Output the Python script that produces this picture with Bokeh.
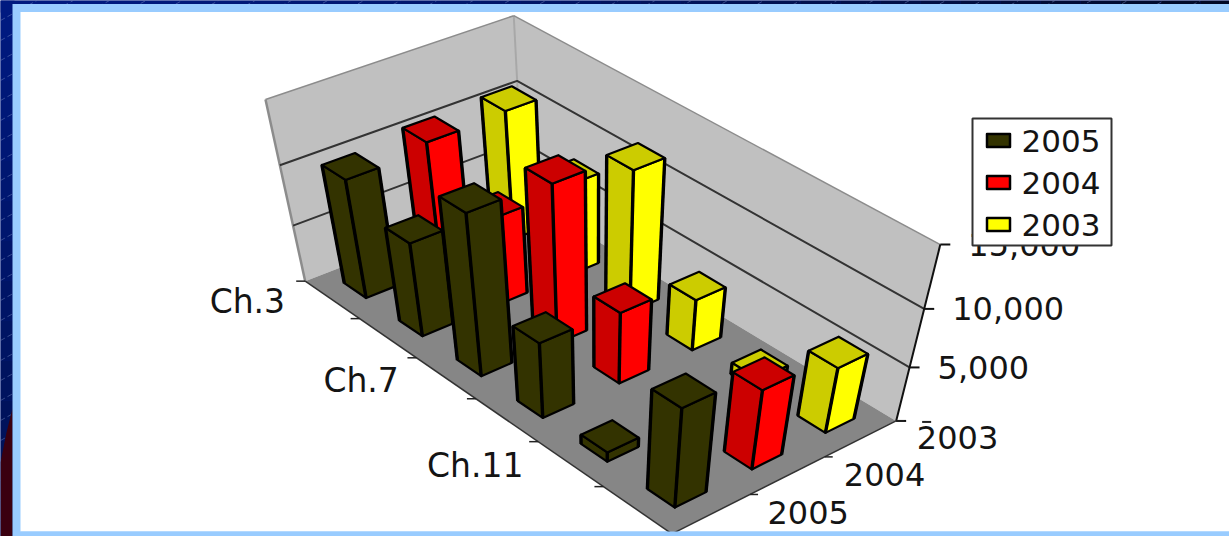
import numpy as np
from bokeh.core.properties import value
from bokeh.embed import file_html
from bokeh.models import Range1d
from bokeh.plotting import figure
from bokeh.resources import INLINE

# Sales by chapter and year
CATEGORIES = ["Ch.3", "Ch.5", "Ch.7", "Ch.9", "Ch.11", "Ch.13"]
LABELLED_CATEGORIES = ["Ch.3", "Ch.7", "Ch.11"]
YEARS = ["2005", "2004", "2003"]
VALUES_2005 = [10200, 8200, 13800, 6800, 900, 9100]
VALUES_2004 = [10800, 7600, 13500, 6400, 0, 7300]
VALUES_2003 = [11000, 7900, 12100, 4600, 1100, 6000]
VALUE_TICKS = [5000, 10000, 15000]
VALUE_MAX = 15000

# (face toward the category axis, face toward the series axis, top)
PALETTE = {
    "2005": ("#333300", "#333300", "#333300"),
    "2004": ("#cc0000", "#ff0000", "#cc0000"),
    "2003": ("#cccc00", "#ffff00", "#cccc00"),
}
SERIES = {"2005": VALUES_2005, "2004": VALUES_2004, "2003": VALUES_2003}

W, H = 1229, 536
FONT = value("DejaVu Sans")
INK = "#141414"
BAR_HALF = 0.2

# Homogeneous camera: category position, series position, height fraction -> page pixels / 1000
CAMERA = np.array([
    [-0.04193373455509437, -0.07472817908119715, 0.0641619697740086, -0.27362270481602374],
    [-0.027524867710634317, 0.021794808301799633, 0.1738064923255938, -0.2520288587021227],
    [0.019292161227154977, -0.018156850013877388, 0.10759799041679556, -0.8980156221178773],
])


def project(u, v, amount=0.0):
    h = CAMERA @ np.array([u, v, amount / VALUE_MAX, 1.0])
    return h[0] / h[2] * 1000, h[1] / h[2] * 1000


def polygon(points):
    pts = [project(*pt) for pt in points]
    return [a for a, _ in pts], [b for _, b in pts]


p = figure(width=W, height=H, x_range=Range1d(0, W), y_range=Range1d(H, 0),
           output_backend="svg", toolbar_location=None, min_border=0,
           outline_line_color=None, background_fill_color="#001a80",
           border_fill_color="#001a80")
p.axis.visible = False
p.grid.visible = False

# Slide background: shaded navy strips, faint diagonal hatching, maroon corner
left = np.array([0x00, 0x1a, 0x80])
dark = np.array([0x00, 0x08, 0x22])
xs = np.arange(0, W, 40)
top_cols = ["#%02x%02x%02x" % tuple(int(c) for c in left + (dark - left) * (x / W) ** 1.5) for x in xs]
p.quad(left=xs, right=xs + 40, top=0, bottom=12, fill_color=top_cols, line_color=None)
ys = np.arange(0, H, 40)
side_end = np.array([0x00, 0x10, 0x50])
side_cols = ["#%02x%02x%02x" % tuple(int(c) for c in left + (side_end - left) * (y / H)) for y in ys]
p.quad(left=0, right=14, top=ys, bottom=ys + 40, fill_color=side_cols, line_color=None)
offs = np.arange(0, 1500, 20)
p.segment(x0=np.zeros_like(offs), y0=offs, x1=offs / 0.55, y1=np.zeros_like(offs),
          line_color="#7f93c8", line_alpha=0.45, line_width=1, line_dash="5 3")
p.patch([12, 6, 0, 0, 12], [408, 432, 462, H, H], fill_color="#3a0010", line_color=None)

# Pale blue frame and white chart panel
p.quad(left=12, right=W, top=3.5, bottom=H, fill_color="#99ccff", line_color=None)
p.quad(left=20, right=W, top=11.5, bottom=531, fill_color="#ffffff", line_color=None)

# Walls and floor of the plot box
nu, nv = len(CATEGORIES), len(YEARS)
wall_l = polygon([(0, 0, 0), (0, nv, 0), (0, nv, VALUE_MAX), (0, 0, VALUE_MAX)])
wall_r = polygon([(0, nv, 0), (nu, nv, 0), (nu, nv, VALUE_MAX), (0, nv, VALUE_MAX)])
floor = polygon([(0, 0, 0), (nu, 0, 0), (nu, nv, 0), (0, nv, 0)])
p.patches([wall_l[0], wall_r[0]], [wall_l[1], wall_r[1]], fill_color="#c0c0c0", line_color=None)
p.patch(floor[0], floor[1], fill_color="#868686", line_color=None)


def edge(a, b, **kw):
    (x0, y0), (x1, y1) = project(*a), project(*b)
    p.line([x0, x1], [y0, y1], **kw)


edge((0, 0, 0), (0, 0, VALUE_MAX), line_color="#8c8c8c", line_width=2.5)
edge((0, nv, 0), (0, nv, VALUE_MAX), line_color="#a8a8a8", line_width=2)
edge((0, 0, VALUE_MAX), (0, nv, VALUE_MAX), line_color="#8c8c8c", line_width=1.5)
edge((0, nv, VALUE_MAX), (nu, nv, VALUE_MAX), line_color="#8c8c8c", line_width=1.5)

# Value gridlines run around both walls
for tick in VALUE_TICKS[:-1]:
    gx, gy = polygon([(0, 0, tick), (0, nv, tick), (nu, nv, tick)])
    p.line(gx, gy, line_color="#333333", line_width=2)

# Axis lines and tick marks
edge((nu, nv, 0), (nu, nv, VALUE_MAX), line_color="#111111", line_width=2)
edge((0, 0, 0), (nu, 0, 0), line_color="#333333", line_width=1.5)
edge((nu, 0, 0), (nu, nv, 0), line_color="#333333", line_width=1.5)

tx, ty = zip(*[project(nu, nv, t) for t in [0] + VALUE_TICKS])
tx, ty = np.array(tx), np.array(ty)
p.segment(tx, ty, tx + 10, ty, line_color="#111111", line_width=2)
# Remnant of the zero label peeking out above the series labels
p.segment(tx[:1] + 26, ty[:1] + 1, tx[:1] + 35, ty[:1] + 1, line_color="#222222", line_width=2)

cx, cy = zip(*[project(u, 0) for u in range(nu + 1)])
cx, cy = np.array(cx), np.array(cy)
p.segment(cx - 9, cy, cx, cy, line_color="#222222", line_width=1.5)
sx, sy = zip(*[project(nu, v) for v in range(nv + 1)])
sx, sy = np.array(sx), np.array(sy)
p.segment(sx, sy, sx + 8, sy, line_color="#222222", line_width=1.5)


def draw_bar(i, j, amount, colors):
    uc, vc = i + 0.5, j + 0.5
    lo_u, hi_u, lo_v, hi_v = uc - BAR_HALF, uc + BAR_HALF, vc - BAR_HALF, vc + BAR_HALF
    face_a = polygon([(lo_u, lo_v, 0), (hi_u, lo_v, 0), (hi_u, lo_v, amount), (lo_u, lo_v, amount)])
    face_b = polygon([(hi_u, lo_v, 0), (hi_u, hi_v, 0), (hi_u, hi_v, amount), (hi_u, lo_v, amount)])
    top = polygon([(lo_u, lo_v, amount), (hi_u, lo_v, amount), (hi_u, hi_v, amount), (lo_u, hi_v, amount)])
    p.patches([face_a[0], face_b[0], top[0]], [face_a[1], face_b[1], top[1]],
              fill_color=list(colors), line_color="#000000", line_width=2.2, line_join="round")
    # Upright edges read heavier than the others
    corners = [(lo_u, lo_v), (hi_u, lo_v), (hi_u, hi_v)]
    base = [project(a, b) for a, b in corners]
    head = [project(a, b, amount) for a, b in corners]
    p.segment([b[0] for b in base], [b[1] for b in base], [h[0] for h in head], [h[1] for h in head],
              line_color="#000000", line_width=3.4)


# Painter's order: back row first, each row from the far end toward the viewer
for j in range(nv - 1, -1, -1):
    year = YEARS[j]
    for i, amount in enumerate(SERIES[year]):
        if amount > 0:
            draw_bar(i, j, amount, PALETTE[year])

# The chart panel crops the front corner of the box
p.quad(left=20, right=W, top=531, bottom=H, fill_color="#99ccff", line_color=None)

# Axis labels
text_style = dict(text_font=FONT, text_color=INK, text_baseline="middle")
lab_idx = [CATEGORIES.index(c) for c in LABELLED_CATEGORIES]
lx, ly = zip(*[project(i + 0.5, 0) for i in lab_idx])
p.text(list(lx), list(ly), text=LABELLED_CATEGORIES, text_align="right", x_offset=-47, y_offset=2,
       text_font_size="33px", **text_style)
yx, yy = zip(*[project(nu, j + 0.5) for j in range(nv)])
p.text(list(yx), list(yy), text=YEARS, text_align="left", x_offset=56, y_offset=-1,
       text_font_size="32px", **text_style)
vx, vy = zip(*[project(nu, nv, t) for t in VALUE_TICKS])
p.text(list(vx), list(vy), text=[f"{t:,}" for t in VALUE_TICKS], text_align="left", x_offset=28, y_offset=0,
       text_font_size="32px", **text_style)

# Legend box, sits above the topmost value label
LEG_L, LEG_T, LEG_R, LEG_B = 972, 118, 1111, 245
p.quad(left=LEG_L, right=LEG_R, top=LEG_T, bottom=LEG_B, fill_color="#ffffff", line_color="#333333", line_width=2)
key_y = [LEG_T + 22 + 42 * k for k in range(len(YEARS))]
p.rect(x=[998] * 3, y=key_y, width=23, height=13, fill_color=[PALETTE[y][1] if y != "2005" else PALETTE[y][0] for y in YEARS],
       line_color="#000000", line_width=2.5, line_join="round")
p.text(x=[1021] * 3, y=key_y, text=YEARS, text_align="left", text_font_size="31px", **text_style)

open("out.html", "w").write(file_html(p, INLINE))
